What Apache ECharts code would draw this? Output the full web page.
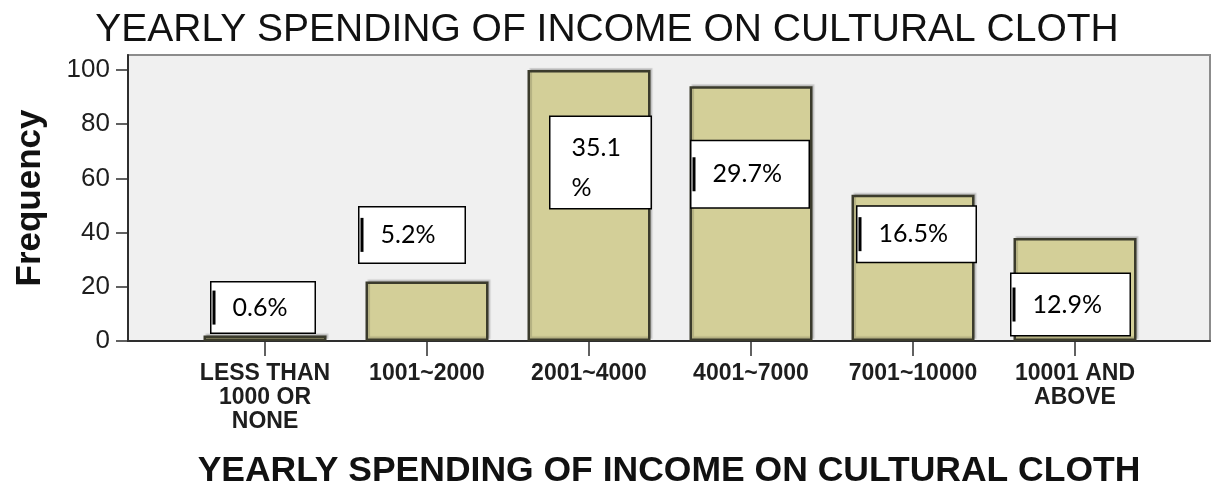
<!DOCTYPE html>
<html>
<head>
<meta charset="utf-8">
<title>Yearly spending of income on cultural cloth</title>
<script src="https://cdn.jsdelivr.net/npm/echarts@6/dist/echarts.min.js"></script>
<style>
  html, body { margin: 0; padding: 0; background: #ffffff; }
  #chart { width: 1214px; height: 501px; }
</style>
</head>
<body>
<div id="chart"></div>
<script>
// Spending bands on the category axis
const categories = [
  'LESS THAN\n1000 OR\nNONE',
  '1001~2000',
  '2001~4000',
  '4001~7000',
  '7001~10000',
  '10001 AND\nABOVE'
];
// Frequency of respondents in each band
const frequencies = [2, 22, 100, 94, 54, 38];
// Percentage shown in the callout box of each band
const percentages = [0.6, 5.2, 35.1, 29.7, 16.5, 12.9];
// Frequency axis ticks
const yTicks = [0, 20, 40, 60, 80, 100];

// Callout box layout, relative to the top-left corner of each bar (pixels)
const calloutLayout = [
  { dx: 8,  dy: -53, w: 103, h: 50, wrap: false },
  { dx: -6, dy: -74, w: 105, h: 55, wrap: false },
  { dx: 23, dy: 47,  w: 100, h: 90, wrap: true  },
  { dx: 2,  dy: 55,  w: 117, h: 66, wrap: false },
  { dx: 6,  dy: 12,  w: 118, h: 55, wrap: false },
  { dx: -2, dy: 36,  w: 118, h: 61, wrap: false }
];

const chart = echarts.init(document.getElementById('chart'), null, { renderer: 'canvas' });

const LINE_H = 36;

const barData = frequencies.map(function (v, i) {
  const L = calloutLayout[i];
  const label = {
    show: true,
    position: [0, 0],
    align: 'left',
    verticalAlign: 'top',
    offset: [L.dx, L.dy],
    backgroundColor: '#ffffff',
    borderColor: '#000000',
    borderWidth: 1.5,
    width: L.w - 1,
    formatter: function () {
      const txt = percentages[i].toFixed(1);
      if (L.wrap) return '{t|' + txt + '}\n{t|%}';
      return '{k|}{t|' + txt + '%}';
    }
  };
  if (L.wrap) {
    label.padding = [11, 0, 0, 1];
    label.rich = {
      t: { fontFamily: 'Lato', fontSize: 25, color: '#000', lineHeight: 40, padding: [0, 0, 0, 20] }
    };
  } else {
    const pad = (L.h - LINE_H) / 2;
    label.padding = [pad, 0, pad, 1];
    label.rich = {
      k: { width: 3, height: 34, backgroundColor: '#000000' },
      t: { fontFamily: 'Lato', fontSize: 25, color: '#000', lineHeight: LINE_H, padding: [0, 0, 0, 17] }
    };
  }
  return { value: v, label: label };
});

const option = {
  animation: false,
  backgroundColor: '#ffffff',
  title: {
    text: 'YEARLY SPENDING OF INCOME ON CULTURAL CLOTH',
    left: 'center',
    top: 6,
    textStyle: {
      fontFamily: 'Liberation Sans',
      fontSize: 39,
      fontWeight: 'normal',
      color: '#111111'
    }
  },
  grid: [
    // plot frame with its grey background
    {
      left: 128, right: 4, top: 55, bottom: 160,
      show: true,
      backgroundColor: '#f0f0f0',
      borderColor: '#8c8c8c',
      borderWidth: 2
    },
    // bar area
    { left: 184, right: 58, top: 70, bottom: 160 }
  ],
  xAxis: [
    {
      gridIndex: 0,
      type: 'value',
      min: 0, max: 1,
      name: 'YEARLY SPENDING OF INCOME ON CULTURAL CLOTH',
      nameLocation: 'middle',
      nameGap: 112,
      nameTextStyle: {
        fontFamily: 'Liberation Sans',
        fontSize: 35.5,
        fontWeight: 'bold',
        color: '#111111'
      },
      axisLine: { show: true, lineStyle: { color: '#2e2e2e', width: 2 } },
      axisTick: { show: false },
      axisLabel: { show: false },
      splitLine: { show: false }
    },
    {
      gridIndex: 1,
      type: 'category',
      data: categories,
      axisLine: { show: false },
      axisTick: { show: true, alignWithLabel: true, length: 15, lineStyle: { color: '#2e2e2e', width: 1.5 } },
      axisLabel: {
        interval: 0,
        margin: 21,
        fontFamily: 'Liberation Sans',
        fontSize: 23,
        fontWeight: 'bold',
        lineHeight: 24,
        color: '#1e1e1e'
      },
      splitLine: { show: false }
    }
  ],
  yAxis: [
    {
      gridIndex: 0,
      type: 'value',
      min: 0, max: 1,
      name: 'Frequency',
      nameLocation: 'middle',
      nameGap: 80,
      nameTextStyle: {
        fontFamily: 'Liberation Sans',
        fontSize: 35,
        fontWeight: 'bold',
        color: '#111111'
      },
      axisLine: { show: true, lineStyle: { color: '#2e2e2e', width: 2 } },
      axisTick: { show: false },
      axisLabel: { show: false },
      splitLine: { show: false }
    },
    {
      gridIndex: 1,
      type: 'value',
      min: yTicks[0],
      max: yTicks[yTicks.length - 1],
      interval: yTicks[1] - yTicks[0],
      offset: 56,
      axisLine: { show: false },
      axisTick: { show: true, length: 12, lineStyle: { color: '#2e2e2e', width: 1.5 } },
      axisLabel: {
        margin: 18,
        fontFamily: 'Liberation Sans',
        fontSize: 26,
        color: '#1e1e1e'
      },
      splitLine: { show: false }
    }
  ],
  series: [
    {
      type: 'bar',
      xAxisIndex: 1,
      yAxisIndex: 1,
      barWidth: 123,
      data: barData,
      itemStyle: {
        color: '#d3cf98',
        borderColor: '#3b3b2c',
        borderWidth: 2.5,
        shadowColor: 'rgba(0,0,0,0.15)',
        shadowBlur: 1,
        shadowOffsetX: 2,
        shadowOffsetY: -2
      },
      z: 3
    }
  ]
};

chart.setOption(option);
</script>
</body>
</html>
